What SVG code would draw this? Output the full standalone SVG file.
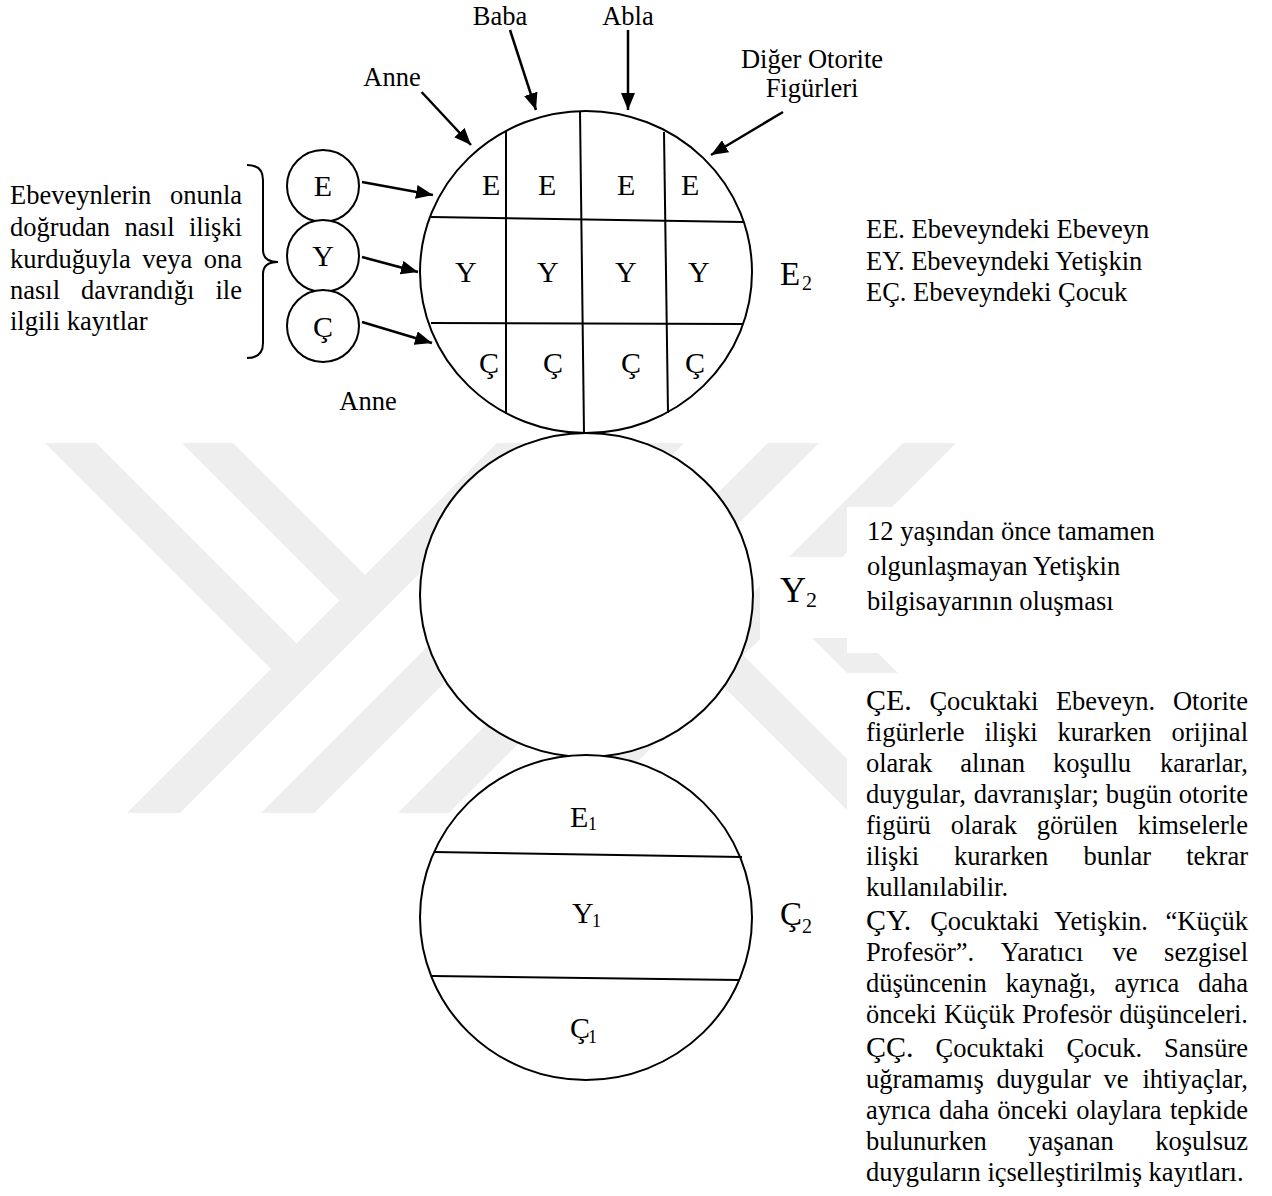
<svg xmlns="http://www.w3.org/2000/svg" width="1272" height="1196" viewBox="0 0 1272 1196">
<style>
.t{font-family:"Liberation Serif","Times New Roman",serif;font-size:26.5px;fill:#000}
.p{font-size:30px}
.g{font-size:30px}
.lab{font-size:33px}
.sub{font-size:20px}
.ln{stroke:#000;stroke-width:2;fill:none}
.circ{fill:#fff;stroke:#000;stroke-width:2}
.arr{stroke:#000;stroke-width:2.5;fill:none;marker-end:url(#ah)}
.wm{fill:#eeeeee}
.bg{fill:#fff}
</style>
<defs>
<marker id="ah" markerUnits="userSpaceOnUse" markerWidth="18" markerHeight="14" refX="17" refY="7" orient="auto">
<path d="M0,0 L17,7 L0,14 z" fill="#000"/>
</marker>
</defs>
<rect width="1272" height="1196" fill="#fff"/>
<g id="watermark">
<polygon class="wm" points="45,443 96,443 296.5,643.5 271,669"/>
<polygon class="wm" points="182,443 233,443 365,575 339.5,600.5"/>
<polygon class="wm" points="127,813 180,813 550,443 497,443"/>
<polygon class="wm" points="261,813 314,813 684,443 631,443"/>
<polygon class="wm" points="398,813 449,813 819,443 768,443"/>
<polygon class="wm" points="533,813 586,813 956,443 903,443"/>
<polygon class="wm" points="901,813 850,813 718,681 743.5,655.5"/>
<polygon class="wm" points="1038,813 987,813 786.5,612.5 812,587"/>
<rect class="bg" x="760" y="557" width="87" height="81"/>
<rect class="bg" x="847" y="507" width="425" height="146"/>
<rect class="bg" x="847" y="673" width="425" height="523"/>
</g>
<g id="connectors">
<line class="arr" x1="421.6" y1="92" x2="471" y2="145"/>
<line class="arr" x1="510" y1="30" x2="536" y2="110"/>
<line class="arr" x1="628" y1="30" x2="628" y2="110"/>
<line class="arr" x1="783" y1="112" x2="711" y2="155"/>
<line class="arr" x1="362" y1="182" x2="433" y2="195"/>
<line class="arr" x1="362" y1="257" x2="418" y2="272"/>
<line class="arr" x1="362" y1="322" x2="432" y2="343"/>
</g>
<g id="top-labels">
<text class="t" x="500" y="25" text-anchor="middle">Baba</text>
<text class="t" x="628" y="25" text-anchor="middle">Abla</text>
<text class="t" x="392" y="86" text-anchor="middle">Anne</text>
<text class="t" x="812" y="68" text-anchor="middle">Diğer Otorite</text>
<text class="t" x="812" y="97" text-anchor="middle">Figürleri</text>
<text class="t" x="368" y="410" text-anchor="middle">Anne</text>
</g>
<g id="left-note">
<text class="t" x="10" y="204">Ebeveynlerin</text><text class="t" x="242" y="204" text-anchor="end">onunla</text>
<text class="t" x="10" y="236">doğrudan</text><text class="t" x="124.5" y="236">nasıl</text><text class="t" x="242" y="236" text-anchor="end">ilişki</text>
<text class="t" x="10" y="268">kurduğuyla</text><text class="t" x="142.2" y="268">veya</text><text class="t" x="242" y="268" text-anchor="end">ona</text>
<text class="t" x="10" y="299">nasıl</text><text class="t" x="81.1" y="299">davrandığı</text><text class="t" x="242" y="299" text-anchor="end">ile</text>
<text class="t" x="10" y="330">ilgili kayıtlar</text>
<path class="ln" d="M247,165 Q263,165 263,180 L263,250 Q263,262 278,262 Q263,262 263,274 L263,343 Q263,358 247,358"/>
</g>
<g id="node-E">
<circle class="circ" cx="323" cy="186" r="36"/>
<text class="t g" x="323" y="196" text-anchor="middle">E</text>
</g>
<g id="node-Y">
<circle class="circ" cx="323" cy="256" r="36"/>
<text class="t g" x="323" y="266" text-anchor="middle">Y</text>
</g>
<g id="node-C">
<circle class="circ" cx="323" cy="326" r="36"/>
<text class="t g" x="323" y="337" text-anchor="middle">Ç</text>
</g>
<g id="node-E2">
<ellipse class="circ" cx="586" cy="272" rx="166" ry="161"/>
<line class="ln" x1="431" y1="217" x2="743" y2="222"/>
<line class="ln" x1="431" y1="323" x2="743" y2="324"/>
<line class="ln" x1="506" y1="131" x2="506" y2="414"/>
<line class="ln" x1="580" y1="111" x2="584" y2="433"/>
<line class="ln" x1="664" y1="132" x2="668" y2="413"/>
<text class="t g" x="482" y="195">E</text><text class="t g" x="538" y="195">E</text><text class="t g" x="617" y="195">E</text><text class="t g" x="681" y="195">E</text>
<text class="t g" x="455" y="282">Y</text><text class="t g" x="537" y="282">Y</text><text class="t g" x="615" y="282">Y</text><text class="t g" x="688" y="282">Y</text>
<text class="t g" x="479" y="373">Ç</text><text class="t g" x="543" y="373">Ç</text><text class="t g" x="621" y="373">Ç</text><text class="t g" x="685" y="373">Ç</text>
<text class="t lab" x="780" y="285">E</text><text class="t sub" x="802" y="290">2</text>
</g>
<g id="node-Y2">
<ellipse class="circ" cx="586.5" cy="595" rx="166.5" ry="162"/>
<text class="t" x="780" y="602" style="font-size:36px">Y</text><text class="t" x="806" y="607" style="font-size:22px">2</text>
</g>
<g id="node-C2">
<ellipse class="circ" cx="586" cy="917.5" rx="166" ry="162.5"/>
<line class="ln" x1="434" y1="852" x2="742" y2="857"/>
<line class="ln" x1="432" y1="976" x2="739" y2="980"/>
<text class="t g" x="570" y="827">E</text><text class="t" x="588" y="830" style="font-size:18px">1</text>
<text class="t g" x="572" y="923">Y</text><text class="t" x="592" y="927" style="font-size:18px">1</text>
<text class="t g" x="570" y="1038">Ç</text><text class="t" x="588" y="1043" style="font-size:18px">1</text>
<text class="t lab" x="780" y="925">Ç</text><text class="t sub" x="802" y="933">2</text>
</g>
<g id="legend-E">
<text class="t" x="866" y="238">EE. Ebeveyndeki Ebeveyn</text>
<text class="t" x="866" y="269.5">EY. Ebeveyndeki Yetişkin</text>
<text class="t" x="866" y="301">EÇ. Ebeveyndeki Çocuk</text>
</g>
<g id="legend-Y">
<text class="t" x="867" y="540">12 yaşından önce tamamen</text>
<text class="t" x="867" y="575">olgunlaşmayan Yetişkin</text>
<text class="t" x="867" y="610">bilgisayarının oluşması</text>
</g>
<g id="legend-C">
<text class="t p" x="866" y="710">ÇE.</text><text class="t" x="929.4" y="710">Çocuktaki</text><text class="t" x="1055.9" y="710">Ebeveyn.</text><text class="t" x="1248" y="710" text-anchor="end">Otorite</text>
<text class="t" x="866" y="741">figürlerle</text><text class="t" x="984.5" y="741">ilişki</text><text class="t" x="1057.4" y="741">kurarken</text><text class="t" x="1248" y="741" text-anchor="end">orijinal</text>
<text class="t" x="866" y="772">olarak</text><text class="t" x="960.2" y="772">alınan</text><text class="t" x="1053" y="772">koşullu</text><text class="t" x="1248" y="772" text-anchor="end">kararlar,</text>
<text class="t" x="866" y="803">duygular,</text><text class="t" x="973.7" y="803">davranışlar;</text><text class="t" x="1105.7" y="803">bugün</text><text class="t" x="1248" y="803" text-anchor="end">otorite</text>
<text class="t" x="866" y="834">figürü</text><text class="t" x="950.7" y="834">olarak</text><text class="t" x="1036.8" y="834">görülen</text><text class="t" x="1248" y="834" text-anchor="end">kimselerle</text>
<text class="t" x="866" y="865">ilişki</text><text class="t" x="954.1" y="865">kurarken</text><text class="t" x="1083.4" y="865">bunlar</text><text class="t" x="1248" y="865" text-anchor="end">tekrar</text>
<text class="t" x="866" y="896">kullanılabilir.</text>
<text class="t p" x="866" y="930">ÇY.</text><text class="t" x="930.2" y="930">Çocuktaki</text><text class="t" x="1054.1" y="930">Yetişkin.</text><text class="t" x="1248" y="930" text-anchor="end">“Küçük</text>
<text class="t" x="866" y="961">Profesör”.</text><text class="t" x="1000.7" y="961">Yaratıcı</text><text class="t" x="1112.6" y="961">ve</text><text class="t" x="1248" y="961" text-anchor="end">sezgisel</text>
<text class="t" x="866" y="992">düşüncenin</text><text class="t" x="1005.4" y="992">kaynağı,</text><text class="t" x="1114.6" y="992">ayrıca</text><text class="t" x="1248" y="992" text-anchor="end">daha</text>
<text class="t" x="866" y="1023">önceki</text><text class="t" x="944" y="1023">Küçük</text><text class="t" x="1022" y="1023">Profesör</text><text class="t" x="1248" y="1023" text-anchor="end">düşünceleri.</text>
<text class="t p" x="866" y="1057">ÇÇ.</text><text class="t" x="935.5" y="1057">Çocuktaki</text><text class="t" x="1066.4" y="1057">Çocuk.</text><text class="t" x="1248" y="1057" text-anchor="end">Sansüre</text>
<text class="t" x="866" y="1088">uğramamış</text><text class="t" x="996.6" y="1088">duygular</text><text class="t" x="1103.6" y="1088">ve</text><text class="t" x="1248" y="1088" text-anchor="end">ihtiyaçlar,</text>
<text class="t" x="866" y="1119">ayrıca</text><text class="t" x="939" y="1119">daha</text><text class="t" x="997.3" y="1119">önceki</text><text class="t" x="1076.2" y="1119">olaylara</text><text class="t" x="1248" y="1119" text-anchor="end">tepkide</text>
<text class="t" x="866" y="1150">bulunurken</text><text class="t" x="1028.3" y="1150">yaşanan</text><text class="t" x="1248" y="1150" text-anchor="end">koşulsuz</text>
<text class="t" x="866" y="1181">duyguların içselleştirilmiş kayıtları.</text>
</g>
</svg>
